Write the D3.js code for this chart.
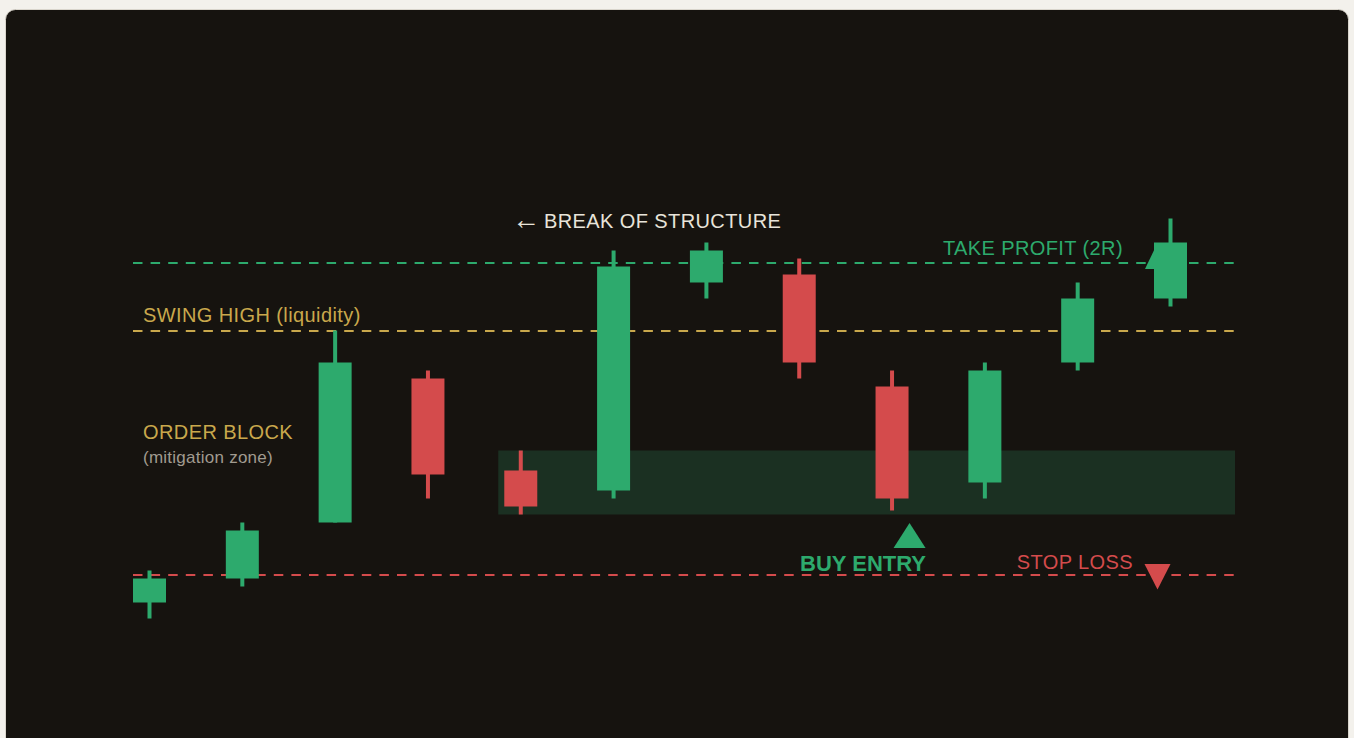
<!DOCTYPE html>
<html>
<head>
<meta charset="utf-8">
<script src="https://cdn.jsdelivr.net/npm/d3@7"></script>
<style>
  html, body { margin: 0; padding: 0; background: #f3f1ec; overflow: hidden; }
  #chart svg { display: block; }
</style>
</head>
<body>
<div id="chart"></div>
<script>
// Candle data (price units)
const opens  = [102, 105, 112, 130, 118.5, 116, 142, 143, 129, 117, 132, 140];
const highs  = [106, 112, 136, 131, 121,   146, 147, 145, 131, 132, 142, 150];
const lows   = [100, 104, 112, 115, 113,   115, 140, 130, 113.5, 115, 131, 139];
const closes = [105, 111, 132, 118, 114,   144, 146, 132, 115, 131, 140, 147];

// Key levels
const takeProfit = 144.5;
const swingHigh = 136;
const stopLoss = 105.5;
const zoneTop = 121;
const zoneBottom = 113;
const zoneStart = 4;     // candle index where the order block begins
const entryIndex = 8;    // candle that triggers the entry

const data = opens.map((o, i) => ({ i, open: o, high: highs[i], low: lows[i], close: closes[i] }));

const width = 1354;
const height = 738;
const lineLeft = 133;
const lineRight = 1235;
const candleW = 33;

const green = "#2daa6d";
const red = "#d44b4c";
const gold = "#c9a84c";

const x = d3.scaleLinear().domain([0, data.length - 1]).range([149.5, 1170.5]);
const y = d3.scaleLinear().domain([100, 150]).range([618.5, 218.5]);

const svg = d3.select("#chart")
  .append("svg")
    .attr("width", width)
    .attr("height", height)
    .attr("viewBox", [0, 0, width, height])
    .style("font-family", "'Liberation Sans', Arial, sans-serif");

// card
svg.append("rect")
  .attr("x", 5.5).attr("y", 9.5)
  .attr("width", 1343).attr("height", 760)
  .attr("rx", 10)
  .attr("fill", "#16130f")
  .attr("stroke", "#d9d5cc")
  .attr("stroke-width", 1);

// order block zone
svg.append("rect")
  .attr("x", x(zoneStart) - 22.5)
  .attr("y", y(zoneTop))
  .attr("width", lineRight - (x(zoneStart) - 22.5))
  .attr("height", y(zoneBottom) - y(zoneTop))
  .attr("fill", "#1b3022");

// dashed levels
const levels = [
  { value: takeProfit, color: green },
  { value: swingHigh, color: gold },
  { value: stopLoss, color: red }
];
svg.append("g")
  .selectAll("line")
  .data(levels)
  .join("line")
    .attr("x1", lineLeft)
    .attr("x2", lineRight)
    .attr("y1", d => Math.round(y(d.value)))
    .attr("y2", d => Math.round(y(d.value)))
    .attr("stroke", d => d.color)
    .attr("stroke-width", 2)
    .attr("stroke-dasharray", "9.5,8.1");

// take profit marker (sits behind the last candle)
const tpX = x(data.length - 1) - 13;
svg.append("path")
  .attr("d", `M${tpX - 12.5},${y(takeProfit) + 6.5} L${tpX + 12.5},${y(takeProfit) + 6.5} L${tpX},${y(takeProfit) - 19.5}Z`)
  .attr("fill", green);

// candles
const candles = svg.append("g")
  .selectAll("g")
  .data(data)
  .join("g")
    .attr("fill", d => d.close >= d.open ? green : red);

candles.append("rect")
  .attr("x", d => x(d.i) - 2)
  .attr("width", 4)
  .attr("y", d => y(d.high))
  .attr("height", d => y(d.low) - y(d.high));

candles.append("rect")
  .attr("x", d => x(d.i) - candleW / 2)
  .attr("width", candleW)
  .attr("y", d => y(Math.max(d.open, d.close)))
  .attr("height", d => Math.max(1, Math.abs(y(d.open) - y(d.close))));

// entry marker
const entryX = x(entryIndex) + 17.5;
const entryTop = y(zoneBottom) + 8.5;
svg.append("path")
  .attr("d", `M${entryX},${entryTop} L${entryX + 16},${entryTop + 25} L${entryX - 16},${entryTop + 25}Z`)
  .attr("fill", green);

// stop loss marker
const slX = tpX;
svg.append("path")
  .attr("d", `M${slX - 13},${y(stopLoss) - 10.5} L${slX + 13},${y(stopLoss) - 10.5} L${slX},${y(stopLoss) + 15}Z`)
  .attr("fill", red);

// labels
const labels = svg.append("g").attr("font-size", 20).attr("letter-spacing", 0.4);

const bos = labels.append("text")
  .attr("x", 512)
  .attr("y", 228)
  .attr("fill", "#e8e4da");
bos.append("tspan")
  .attr("font-size", 28)
  .attr("dy", 1)
  .text("\u2190");
bos.append("tspan")
  .attr("x", 544)
  .attr("dy", -1)
  .text("BREAK OF STRUCTURE");

labels.append("text")
  .attr("x", 1123)
  .attr("y", y(takeProfit) - 8)
  .attr("text-anchor", "end")
  .attr("fill", green)
  .text("TAKE PROFIT (2R)");

labels.append("text")
  .attr("x", 143)
  .attr("y", y(swingHigh) - 9)
  .attr("fill", gold)
  .text("SWING HIGH (liquidity)");

labels.append("text")
  .attr("x", 143)
  .attr("y", 439)
  .attr("fill", gold)
  .text("ORDER BLOCK");

labels.append("text")
  .attr("x", 143)
  .attr("y", 463)
  .attr("font-size", 17)
  .attr("letter-spacing", 0.25)
  .attr("fill", "#a19b90")
  .text("(mitigation zone)");

labels.append("text")
  .attr("x", 926)
  .attr("y", 571)
  .attr("text-anchor", "end")
  .attr("font-size", 22)
  .attr("font-weight", "bold")
  .attr("letter-spacing", 0)
  .attr("fill", green)
  .text("BUY ENTRY");

labels.append("text")
  .attr("x", 1133)
  .attr("y", y(stopLoss) - 6)
  .attr("text-anchor", "end")
  .attr("fill", red)
  .text("STOP LOSS");
</script>
</body>
</html>
